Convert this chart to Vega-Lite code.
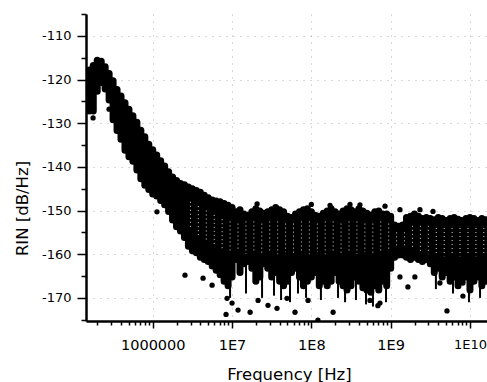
{
  "$schema": "https://vega.github.io/schema/vega-lite/v6.json",
  "width": 401,
  "height": 307,
  "autosize": "none",
  "padding": {"left": 86, "top": 14, "right": 0, "bottom": 61},
  "background": "white",
  "config": {"view": {"stroke": null}, "font": "DejaVu Sans"},
  "datasets": {
    "band": [
      {"f": 147900, "hi": -118.3, "lo": -126.7},
      {"f": 158500, "hi": -117.8, "lo": -127.2},
      {"f": 177800, "hi": -116.8, "lo": -127.2},
      {"f": 199500, "hi": -115.6, "lo": -122.7},
      {"f": 223900, "hi": -115.8, "lo": -120.7},
      {"f": 251200, "hi": -117.1, "lo": -122.2},
      {"f": 281800, "hi": -118.6, "lo": -124.7},
      {"f": 316200, "hi": -120.3, "lo": -129.2},
      {"f": 354800, "hi": -122.3, "lo": -131.7},
      {"f": 398100, "hi": -123.8, "lo": -133.7},
      {"f": 446700, "hi": -125.3, "lo": -136.2},
      {"f": 501200, "hi": -126.8, "lo": -137.7},
      {"f": 562300, "hi": -128.3, "lo": -138.7},
      {"f": 631000, "hi": -129.8, "lo": -140.7},
      {"f": 707900, "hi": -131.6, "lo": -142.7},
      {"f": 794300, "hi": -133.1, "lo": -144.2},
      {"f": 891300, "hi": -134.8, "lo": -145.2},
      {"f": 1000000, "hi": -136.1, "lo": -146.2},
      {"f": 1122000, "hi": -137.3, "lo": -146.7},
      {"f": 1259000, "hi": -138.6, "lo": -147.7},
      {"f": 1413000, "hi": -139.8, "lo": -148.7},
      {"f": 1585000, "hi": -141.1, "lo": -150.2},
      {"f": 1778000, "hi": -142.3, "lo": -152.2},
      {"f": 1995000, "hi": -143.1, "lo": -153.7},
      {"f": 2239000, "hi": -143.8, "lo": -154.7},
      {"f": 2512000, "hi": -144.1, "lo": -156.2},
      {"f": 2818000, "hi": -144.6, "lo": -158.2},
      {"f": 3162000, "hi": -145.0, "lo": -159.2},
      {"f": 3548000, "hi": -145.4, "lo": -159.7},
      {"f": 3981000, "hi": -145.8, "lo": -160.7},
      {"f": 4467000, "hi": -146.5, "lo": -161.2},
      {"f": 5012000, "hi": -147.1, "lo": -161.7},
      {"f": 5623000, "hi": -147.6, "lo": -162.7},
      {"f": 6310000, "hi": -147.8, "lo": -163.7},
      {"f": 7079000, "hi": -148.0, "lo": -164.7},
      {"f": 7943000, "hi": -148.4, "lo": -166.2},
      {"f": 8913000, "hi": -148.8, "lo": -167.2},
      {"f": 10000000, "hi": -149.3, "lo": -165.2},
      {"f": 11220000, "hi": -150.3, "lo": -161.2},
      {"f": 12590000, "hi": -149.8, "lo": -164.2},
      {"f": 14130000, "hi": -150.8, "lo": -162.2},
      {"f": 15850000, "hi": -151.1, "lo": -161.7},
      {"f": 17780000, "hi": -150.3, "lo": -163.2},
      {"f": 19950000, "hi": -149.6, "lo": -166.2},
      {"f": 22390000, "hi": -150.1, "lo": -165.2},
      {"f": 25120000, "hi": -150.6, "lo": -162.2},
      {"f": 28180000, "hi": -150.3, "lo": -163.2},
      {"f": 31620000, "hi": -149.8, "lo": -165.2},
      {"f": 35480000, "hi": -149.3, "lo": -164.2},
      {"f": 39810000, "hi": -149.8, "lo": -166.2},
      {"f": 44670000, "hi": -150.3, "lo": -167.2},
      {"f": 50120000, "hi": -151.3, "lo": -166.2},
      {"f": 56230000, "hi": -151.6, "lo": -164.2},
      {"f": 63100000, "hi": -150.8, "lo": -163.2},
      {"f": 70790000, "hi": -150.3, "lo": -165.2},
      {"f": 79430000, "hi": -149.8, "lo": -167.2},
      {"f": 89130000, "hi": -149.6, "lo": -166.2},
      {"f": 100000000, "hi": -150.3, "lo": -165.2},
      {"f": 112200000, "hi": -151.1, "lo": -164.2},
      {"f": 125900000, "hi": -151.3, "lo": -167.2},
      {"f": 141300000, "hi": -150.6, "lo": -166.2},
      {"f": 158500000, "hi": -150.1, "lo": -167.2},
      {"f": 177800000, "hi": -149.6, "lo": -166.2},
      {"f": 199500000, "hi": -150.3, "lo": -164.2},
      {"f": 223900000, "hi": -150.8, "lo": -166.2},
      {"f": 251200000, "hi": -150.1, "lo": -167.2},
      {"f": 281800000, "hi": -149.6, "lo": -168.2},
      {"f": 316200000, "hi": -149.8, "lo": -167.2},
      {"f": 354800000, "hi": -150.3, "lo": -165.2},
      {"f": 398100000, "hi": -149.6, "lo": -166.2},
      {"f": 446700000, "hi": -150.1, "lo": -167.7},
      {"f": 501200000, "hi": -150.6, "lo": -168.2},
      {"f": 562300000, "hi": -151.0, "lo": -168.7},
      {"f": 631000000, "hi": -150.3, "lo": -167.2},
      {"f": 707900000, "hi": -150.1, "lo": -168.2},
      {"f": 794300000, "hi": -150.8, "lo": -166.2},
      {"f": 891300000, "hi": -150.8, "lo": -167.2},
      {"f": 1000000000, "hi": -151.3, "lo": -163.2},
      {"f": 1122000000, "hi": -153.3, "lo": -160.7},
      {"f": 1259000000, "hi": -153.6, "lo": -160.2},
      {"f": 1413000000, "hi": -153.3, "lo": -160.2},
      {"f": 1585000000, "hi": -151.6, "lo": -160.7},
      {"f": 1778000000, "hi": -151.3, "lo": -161.2},
      {"f": 1995000000, "hi": -150.8, "lo": -160.7},
      {"f": 2239000000, "hi": -151.3, "lo": -161.2},
      {"f": 2512000000, "hi": -151.8, "lo": -161.7},
      {"f": 2818000000, "hi": -151.6, "lo": -161.2},
      {"f": 3162000000, "hi": -151.8, "lo": -162.2},
      {"f": 3548000000, "hi": -152.1, "lo": -164.2},
      {"f": 3981000000, "hi": -151.6, "lo": -163.2},
      {"f": 4467000000, "hi": -151.8, "lo": -165.2},
      {"f": 5012000000, "hi": -152.3, "lo": -164.2},
      {"f": 5623000000, "hi": -151.8, "lo": -166.2},
      {"f": 6310000000, "hi": -151.6, "lo": -165.2},
      {"f": 7079000000, "hi": -152.0, "lo": -167.2},
      {"f": 7943000000, "hi": -152.3, "lo": -166.2},
      {"f": 8913000000, "hi": -151.8, "lo": -165.2},
      {"f": 10000000000, "hi": -151.6, "lo": -168.2},
      {"f": 11220000000, "hi": -151.8, "lo": -166.2},
      {"f": 12590000000, "hi": -152.3, "lo": -165.2},
      {"f": 14130000000, "hi": -151.8, "lo": -167.2},
      {"f": 15850000000, "hi": -152.1, "lo": -166.2}
    ],
    "core": [
      {"f": 2985000, "hi": -148, "lo": -154},
      {"f": 3758000, "hi": -149, "lo": -156},
      {"f": 4732000, "hi": -150, "lo": -157},
      {"f": 5957000, "hi": -151, "lo": -158},
      {"f": 7499000, "hi": -152, "lo": -159},
      {"f": 9441000, "hi": -152.5, "lo": -159.5},
      {"f": 11890000, "hi": -153, "lo": -159},
      {"f": 14960000, "hi": -152.5, "lo": -160},
      {"f": 18840000, "hi": -152.5, "lo": -159.5},
      {"f": 23710000, "hi": -153, "lo": -160},
      {"f": 29850000, "hi": -152.5, "lo": -159.5},
      {"f": 37580000, "hi": -152.5, "lo": -160},
      {"f": 47320000, "hi": -153, "lo": -159.5},
      {"f": 59570000, "hi": -153, "lo": -160},
      {"f": 74990000, "hi": -152.5, "lo": -159.5},
      {"f": 94410000, "hi": -152.5, "lo": -160},
      {"f": 118900000, "hi": -153, "lo": -159.5},
      {"f": 149600000, "hi": -152.5, "lo": -160},
      {"f": 188400000, "hi": -152.5, "lo": -159.5},
      {"f": 237100000, "hi": -153, "lo": -160},
      {"f": 298500000, "hi": -152.5, "lo": -159.5},
      {"f": 375800000, "hi": -152.5, "lo": -160},
      {"f": 473200000, "hi": -153, "lo": -159.5},
      {"f": 595700000, "hi": -153, "lo": -160},
      {"f": 749900000, "hi": -152.5, "lo": -159.5},
      {"f": 944100000, "hi": -153, "lo": -159},
      {"f": 1189000000, "hi": -155, "lo": -158.5},
      {"f": 1496000000, "hi": -155, "lo": -158.5},
      {"f": 1884000000, "hi": -153.5, "lo": -159},
      {"f": 2371000000, "hi": -153.5, "lo": -159.5},
      {"f": 2985000000, "hi": -153.5, "lo": -160},
      {"f": 3758000000, "hi": -154, "lo": -160},
      {"f": 4732000000, "hi": -154, "lo": -160.5},
      {"f": 5957000000, "hi": -154, "lo": -160},
      {"f": 7499000000, "hi": -154, "lo": -160.5},
      {"f": 9441000000, "hi": -154, "lo": -160},
      {"f": 11890000000, "hi": -154, "lo": -160.5},
      {"f": 14960000000, "hi": -154, "lo": -160}
    ],
    "spikes": [
      {"f": 9440000, "hi": -160, "lo": -170},
      {"f": 15000000, "hi": -160, "lo": -169},
      {"f": 23900000, "hi": -160, "lo": -170},
      {"f": 33800000, "hi": -160, "lo": -169.5},
      {"f": 41500000, "hi": -160, "lo": -170.5},
      {"f": 53800000, "hi": -160, "lo": -171},
      {"f": 67900000, "hi": -160, "lo": -169},
      {"f": 85700000, "hi": -160, "lo": -170},
      {"f": 132000000, "hi": -160, "lo": -170.5},
      {"f": 217000000, "hi": -160, "lo": -170},
      {"f": 266000000, "hi": -160, "lo": -171},
      {"f": 365000000, "hi": -160, "lo": -170.5},
      {"f": 489000000, "hi": -160, "lo": -171.5},
      {"f": 598000000, "hi": -160, "lo": -172},
      {"f": 873000000, "hi": -160, "lo": -171},
      {"f": 3720000000, "hi": -160, "lo": -168},
      {"f": 6110000000, "hi": -160, "lo": -169},
      {"f": 9710000000, "hi": -160, "lo": -171},
      {"f": 13400000000, "hi": -160, "lo": -170}
    ],
    "dots": [
      {"f": 176800, "hi": -128.8},
      {"f": 281000, "hi": -126.8},
      {"f": 1130000, "hi": -150.3},
      {"f": 2550000, "hi": -164.8},
      {"f": 4310000, "hi": -165.5},
      {"f": 5600000, "hi": -167.1},
      {"f": 8650000, "hi": -170.1},
      {"f": 8400000, "hi": -173.8},
      {"f": 10000000, "hi": -171.2},
      {"f": 11900000, "hi": -172.8},
      {"f": 16900000, "hi": -173.3},
      {"f": 21300000, "hi": -170.6},
      {"f": 28400000, "hi": -171.7},
      {"f": 36900000, "hi": -172.4},
      {"f": 49300000, "hi": -170.1},
      {"f": 62200000, "hi": -173.3},
      {"f": 90800000, "hi": -170.6},
      {"f": 121000000, "hi": -175.1},
      {"f": 188000000, "hi": -173.3},
      {"f": 549000000, "hi": -170.6},
      {"f": 733000000, "hi": -171.2},
      {"f": 690000000, "hi": -171.8},
      {"f": 1310000000, "hi": -165.2},
      {"f": 2020000000, "hi": -165.2},
      {"f": 1650000000, "hi": -167.5},
      {"f": 4180000000, "hi": -166.6},
      {"f": 5130000000, "hi": -173.0},
      {"f": 8150000000, "hi": -169.6},
      {"f": 8150000000, "hi": -166.6},
      {"f": 20700000, "hi": -148.5},
      {"f": 100000000, "hi": -148.6},
      {"f": 172000000, "hi": -148.8},
      {"f": 307000000, "hi": -148.6},
      {"f": 410000000, "hi": -148.7},
      {"f": 849000000, "hi": -149.0},
      {"f": 1310000000, "hi": -149.8},
      {"f": 2340000000, "hi": -149.8},
      {"f": 3420000000, "hi": -150.2}
    ]
  },
  "encoding": {
    "x": {
      "field": "f",
      "type": "quantitative",
      "scale": {"type": "log", "domain": [144000, 16400000000], "nice": false},
      "axis": {
        "title": "Frequency [Hz]",
        "titleFont": "DejaVu Sans",
        "titleFontSize": 16.5,
        "titleFontWeight": "normal",
        "titleColor": "black",
        "titleBaseline": "alphabetic",
        "titleX": 203,
        "titleY": 58,
        "values": [200000, 300000, 400000, 500000, 600000, 700000, 800000, 900000, 1000000, 2000000, 3000000, 4000000, 5000000, 6000000, 7000000, 8000000, 9000000, 10000000, 20000000, 30000000, 40000000, 50000000, 60000000, 70000000, 80000000, 90000000, 100000000, 200000000, 300000000, 400000000, 500000000, 600000000, 700000000, 800000000, 900000000, 1000000000, 2000000000, 3000000000, 4000000000, 5000000000, 6000000000, 7000000000, 8000000000, 9000000000, 10000000000],
        "labelExpr": "datum.value == 1000000 ? '1000000' : (abs(log(datum.value)/LN10 - round(log(datum.value)/LN10)) < 0.01 ? '1E' + round(log(datum.value)/LN10) : '')",
        "labelFont": "DejaVu Sans",
        "labelFontSize": {"condition": {"test": "datum.value > 5000000000", "value": 13}, "value": 14.5},
        "labelColor": "black",
        "labelPadding": 10,
        "labelOverlap": false,
        "labelFlush": false,
        "domainColor": "black",
        "domainWidth": 2.5,
        "tickColor": "black",
        "tickWidth": 1.5,
        "tickSize": {"condition": {"test": "abs(log(datum.value)/LN10 - round(log(datum.value)/LN10)) < 0.01", "value": 7}, "value": 4},
        "grid": true,
        "gridColor": "#777777",
        "gridDash": [1, 6],
        "gridWidth": 1,
        "gridOpacity": {"condition": {"test": "abs(log(datum.value)/LN10 - round(log(datum.value)/LN10)) < 0.01", "value": 0.55}, "value": 0}
      }
    },
    "y": {
      "field": "hi",
      "type": "quantitative",
      "scale": {"domain": [-175.3, -105], "nice": false, "zero": false},
      "axis": {
        "title": "RIN [dB/Hz]",
        "titleFont": "DejaVu Sans",
        "titleFontSize": 16.5,
        "titleFontWeight": "normal",
        "titleColor": "black",
        "titleBaseline": "alphabetic",
        "titleAngle": 270,
        "titleX": -59,
        "titleY": 194,
        "values": [-175, -170, -165, -160, -155, -150, -145, -140, -135, -130, -125, -120, -115, -110, -105],
        "labelExpr": "datum.value % 10 == 0 ? '-' + abs(datum.value) : ''",
        "labelFont": "DejaVu Sans",
        "labelFontSize": 13,
        "labelColor": "black",
        "labelPadding": 6,
        "labelOverlap": false,
        "labelFlush": false,
        "domainColor": "black",
        "domainWidth": 2.5,
        "tickColor": "black",
        "tickWidth": 1.5,
        "tickSize": {"condition": {"test": "datum.value % 10 == 0", "value": 9}, "value": 5},
        "grid": true,
        "gridColor": "#777777",
        "gridDash": [1, 6],
        "gridWidth": 1,
        "gridOpacity": {"condition": {"test": "datum.value % 10 == 0", "value": 0.55}, "value": 0}
      }
    }
  },
  "layer": [
    {
      "data": {"name": "band"},
      "mark": {"type": "rule", "strokeWidth": 7, "strokeCap": "round", "color": "black", "clip": true},
      "encoding": {"y2": {"field": "lo"}}
    },
    {
      "data": {"name": "core"},
      "mark": {"type": "rule", "strokeWidth": 1, "strokeDash": [1, 3], "color": "white", "opacity": 0.85, "clip": true},
      "encoding": {"y2": {"field": "lo"}}
    },
    {
      "data": {"name": "spikes"},
      "mark": {"type": "rule", "strokeWidth": 2, "color": "black", "clip": true},
      "encoding": {"y2": {"field": "lo"}}
    },
    {
      "data": {"name": "dots"},
      "mark": {"type": "circle", "size": 28, "color": "black", "opacity": 1, "clip": true},
      "encoding": {}
    }
  ]
}
